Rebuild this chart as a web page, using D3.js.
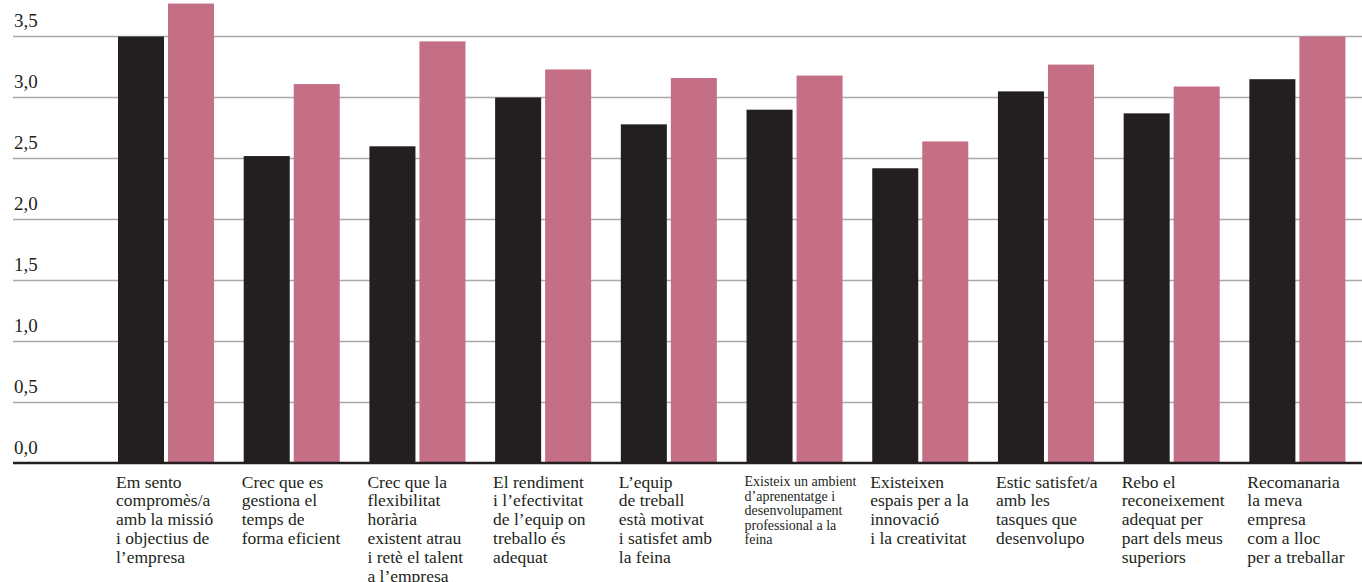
<!DOCTYPE html>
<html>
<head>
<meta charset="utf-8">
<script src="https://cdn.jsdelivr.net/npm/d3@7"></script>
<style>
  html, body { margin: 0; padding: 0; background: #fff; }
  svg { display: block; }
  text { font-family: "Liberation Serif", "Times New Roman", serif; fill: #231f20; }
</style>
</head>
<body>
<svg id="chart" width="1362" height="582"></svg>
<script>
// Category labels (line breaks as in the printed layout)
const categories = [
  "Em sento\ncompromès/a\namb la missió\ni objectius de\nl’empresa",
  "Crec que es\ngestiona el\ntemps de\nforma eficient",
  "Crec que la\nflexibilitat\nhorària\nexistent atrau\ni retè el talent\na l’empresa",
  "El rendiment\ni l’efectivitat\nde l’equip on\ntreballo és\nadequat",
  "L’equip\nde treball\nestà motivat\ni satisfet amb\nla feina",
  "Existeix un ambient\nd’aprenentatge i\ndesenvolupament\nprofessional a la\nfeina",
  "Existeixen\nespais per a la\ninnovació\ni la creativitat",
  "Estic satisfet/a\namb les\ntasques que\ndesenvolupo",
  "Rebo el\nreconeixement\nadequat per\npart dels meus\nsuperiors",
  "Recomanaria\nla meva\nempresa\ncom a lloc\nper a treballar"
];
// Index of the label printed in a smaller size
const smallLabels = [5];

const seriesNames = ["serie1", "serie2"];
const serie1 = [3.50, 2.52, 2.60, 3.00, 2.78, 2.90, 2.42, 3.05, 2.87, 3.15];
const serie2 = [3.77, 3.11, 3.46, 3.23, 3.16, 3.18, 2.64, 3.27, 3.09, 3.50];
const seriesColors = ["#231f20", "#c46f86"];

const yTicks = [0, 0.5, 1, 1.5, 2, 2.5, 3, 3.5];
const yTickLabels = ["0,0", "0,5", "1,0", "1,5", "2,0", "2,5", "3,0", "3,5"];

const svg = d3.select("#chart");

const y = d3.scaleLinear().domain([0, 3.5]).range([463.5, 36.5]);

const x0 = d3.scaleBand()
  .domain(d3.range(categories.length))
  .range([118, 1345.4])
  .paddingInner(0.236)
  .paddingOuter(0);

const x1 = d3.scaleBand()
  .domain(seriesNames)
  .range([0, x0.bandwidth()])
  .paddingInner(0.08)
  .paddingOuter(0);

// Horizontal gridlines
svg.append("g")
  .selectAll("line")
  .data(yTicks.filter(d => d > 0))
  .join("line")
  .attr("x1", 13)
  .attr("x2", 1362)
  .attr("y1", d => y(d))
  .attr("y2", d => y(d))
  .attr("stroke", "#a9a9a9")
  .attr("stroke-width", 1.5);

// Tick labels sit above their gridline
svg.append("g")
  .selectAll("text")
  .data(yTicks)
  .join("text")
  .attr("x", 14)
  .attr("y", d => y(d) - 10)
  .attr("font-size", 19)
  .text((d, i) => yTickLabels[i]);

// Bars
const series = [serie1, serie2];
const groups = svg.append("g")
  .selectAll("g")
  .data(categories.map((c, i) => i))
  .join("g")
  .attr("transform", i => `translate(${x0(i)},0)`);

groups.selectAll("rect")
  .data(i => seriesNames.map((s, k) => ({ s, k, v: series[k][i] })))
  .join("rect")
  .attr("x", d => x1(d.s))
  .attr("width", x1.bandwidth())
  .attr("y", d => y(d.v))
  .attr("height", d => y(0) - y(d.v))
  .attr("fill", d => seriesColors[d.k]);

// Baseline
svg.append("line")
  .attr("x1", 13)
  .attr("x2", 1362)
  .attr("y1", y(0) - 0.5)
  .attr("y2", y(0) - 0.5)
  .attr("stroke", "#231f20")
  .attr("stroke-width", 2.5);

// Category labels under each group
const labels = svg.append("g")
  .selectAll("text")
  .data(categories.map((c, i) => ({ c, i })))
  .join("text")
  .attr("x", d => x0(d.i) - 2)
  .attr("y", d => smallLabels.includes(d.i) ? 486 : 487.5)
  .attr("font-size", d => smallLabels.includes(d.i) ? 14 : 17.5);

labels.selectAll("tspan")
  .data(d => d.c.split("\n").map((line, j) => ({ line, j, small: smallLabels.includes(d.i), x: x0(d.i) - 2 })))
  .join("tspan")
  .attr("x", d => d.x)
  .attr("dy", d => d.j === 0 ? 0 : (d.small ? 14.6 : 18.8))
  .text(d => d.line);
</script>
</body>
</html>
